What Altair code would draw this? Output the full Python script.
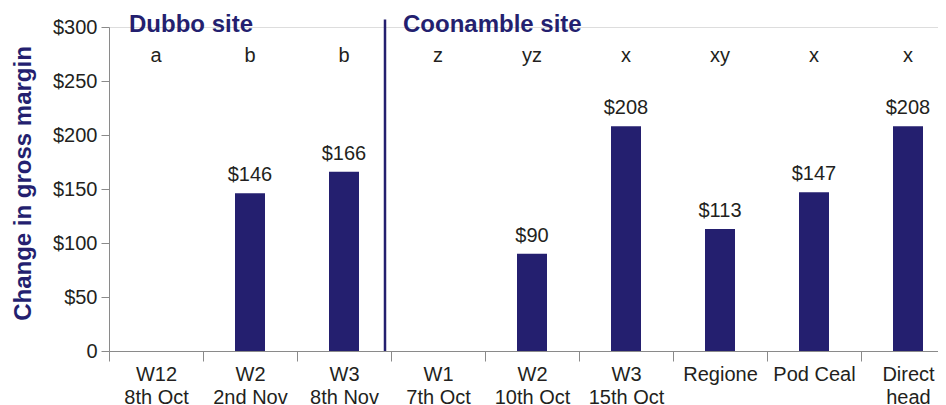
import altair as alt
import pandas as pd

# ---- data ----
categories = ["W12|8th Oct", "W2|2nd Nov", "W3|8th Nov", "W1|7th Oct", "W2|10th Oct",
              "W3|15th Oct", "Regione", "Pod Ceal", "Direct|head"]
values = [0, 146, 166, 0, 90, 208, 113, 147, 208]
letters = ["a", "b", "b", "z", "yz", "x", "xy", "x", "x"]
site_names = ["Dubbo site", "Coonamble site"]
site_first_category = ["W12|8th Oct", "W1|7th Oct"]
y_ticks = [0, 50, 100, 150, 200, 250, 300]

NAVY = "#241F6F"
TEXT = "#231F20"
GREY = "#8A8A8A"
FONT = "Liberation Sans"

df = pd.DataFrame({"cat": categories, "value": values, "letter": letters})
sites = pd.DataFrame({"site": site_names, "cat": site_first_category})

xscale = alt.Scale(domain=categories, range=[0, 846], paddingInner=0, paddingOuter=0)
yscale = alt.Scale(domain=[0, 300], nice=False)

x_axis = alt.Axis(
    title=None, labelAngle=0, tickBand="extent", tickSize=10, labelPadding=3,
    labelExpr="split(datum.label, '|')", labelLineHeight=23, labelFontSize=20,
    labelColor=TEXT, domainColor=GREY, tickColor=GREY, labelBaseline="top",
    labelFont=FONT,
)
y_axis = alt.Axis(
    title="Change in gross margin", values=y_ticks, grid=False, tickSize=8,
    labelPadding=4, labelFontSize=20, labelColor=TEXT, labelFont=FONT,
    labelExpr="datum.value == 0 ? '0' : '$' + datum.value",
    domainColor=GREY, tickColor=GREY,
    titleFontSize=24, titleFont=FONT, titleFontWeight="bold", titleColor=NAVY,
    titleX=-86, titleY=156, titleAlign="center", titleBaseline="middle", titleAngle=270,
)

base = alt.Chart(df)

bars = base.mark_bar(size=30, color=NAVY).encode(
    x=alt.X("cat:N", sort=categories, scale=xscale, axis=x_axis),
    y=alt.Y("value:Q", scale=yscale, axis=y_axis),
)

value_labels = base.transform_filter("datum.value > 0").transform_calculate(
    lbl="'$' + datum.value"
).mark_text(dy=-12, baseline="alphabetic", fontSize=20, color=TEXT, font=FONT).encode(
    x=alt.X("cat:N", sort=categories, scale=xscale),
    y=alt.Y("value:Q", scale=yscale),
    text="lbl:N",
)

letter_labels = base.mark_text(baseline="alphabetic", fontSize=20, color=TEXT, font=FONT).encode(
    x=alt.X("cat:N", sort=categories, scale=xscale),
    y=alt.datum(268, scale=yscale),
    text="letter:N",
)

divider = alt.Chart(sites.iloc[[1]]).mark_rule(color=NAVY, strokeWidth=2.5, xOffset=-6).encode(
    x=alt.X("cat:N", sort=categories, scale=xscale, bandPosition=0),
    y=alt.datum(307, scale=yscale),
    y2=alt.datum(0),
)

dubbo_title = alt.Chart(sites.iloc[[0]]).mark_text(
    align="left", baseline="alphabetic", dx=20, fontSize=24, fontWeight="bold",
    color=NAVY, font=FONT,
).encode(
    x=alt.X("cat:N", sort=categories, scale=xscale, bandPosition=0),
    y=alt.datum(295, scale=yscale),
    text="site:N",
)

coon_title = alt.Chart(sites.iloc[[1]]).mark_text(
    align="left", baseline="alphabetic", dx=12, fontSize=24, fontWeight="bold",
    color=NAVY, font=FONT,
).encode(
    x=alt.X("cat:N", sort=categories, scale=xscale, bandPosition=0),
    y=alt.datum(295, scale=yscale),
    text="site:N",
)

chart = alt.layer(bars, value_labels, letter_labels, divider, dubbo_title, coon_title).properties(
    width=829, height=324,
    autosize=alt.AutoSizeParams(type="none"),
    padding={"left": 101, "top": 19, "right": 0, "bottom": 62},
).configure_view(stroke=None).configure(font=FONT)

chart.save("out.html", embed_options={"renderer": "svg", "actions": False})
